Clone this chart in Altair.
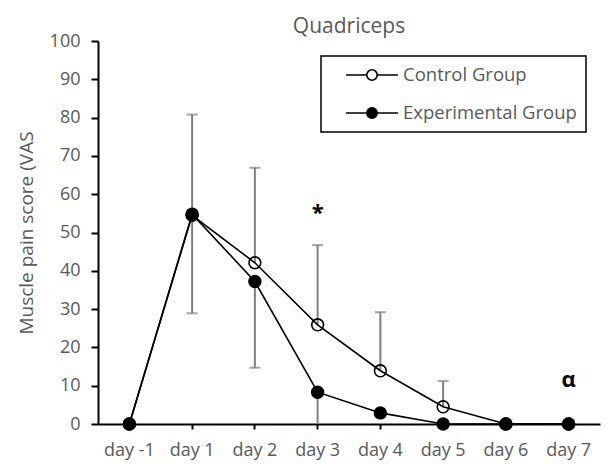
import altair as alt
import pandas as pd

days = ["day -1", "day 1", "day 2", "day 3", "day 4", "day 5", "day 6", "day 7"]
control = [0, 54.5, 42.1, 25.9, 13.9, 4.5, 0, 0]
experimental = [0, 54.8, 37.2, 8.3, 2.9, 0, 0, 0]

# error bars: control upward, experimental downward
ctrl_err_days = ["day 1", "day 2", "day 3", "day 4", "day 5"]
ctrl_err_upper = [80.8, 66.9, 46.7, 29.2, 11.2]
exp_err_days = ["day 1", "day 2", "day 3"]
exp_err_lower = [28.9, 14.7, 0]

ann_days = ["day 3", "day 7"]
ann_vals = [55, 11.5]
ann_text = ["*", "α"]

groups = ["Control Group", "Experimental Group"]

rows = []
for d, c, e in zip(days, control, experimental):
    rows.append({"day": d, "group": groups[0], "value": c})
    rows.append({"day": d, "group": groups[1], "value": e})
df = pd.DataFrame(rows)

cv = dict(zip(days, control))
ev = dict(zip(days, experimental))
err_rows = []
for d, u in zip(ctrl_err_days, ctrl_err_upper):
    err_rows.append({"day": d, "base": cv[d], "end": u, "cap": True})
for d, l in zip(exp_err_days, exp_err_lower):
    err_rows.append({"day": d, "base": ev[d], "end": l, "cap": l > 0})
err = pd.DataFrame(err_rows)

ann = pd.DataFrame({"day": ann_days, "value": ann_vals, "text": ann_text})

FONT = "Open Sans"
GRAY = "#595959"

x = alt.X("day:N", sort=days, scale=alt.Scale(domain=days, paddingInner=0, paddingOuter=0),
          axis=alt.Axis(title=None, labelAngle=0, labelFont=FONT, labelFontSize=18,
                        labelColor=GRAY, domainColor="black", domainWidth=2,
                        tickColor="black", tickWidth=2, tickSize=5, labelPadding=12))
y_scale = alt.Scale(domain=[0, 100], nice=False)
y_axis = alt.Axis(title="Muscle pain score (VAS", values=list(range(0, 101, 10)), grid=False,
                  labelOverlap=False,
                  labelFont=FONT, labelFontSize=18, labelColor=GRAY, domainColor="black",
                  domainWidth=2, tickColor="black", tickWidth=2, tickSize=7, labelPadding=11,
                  titleFont=FONT, titleFontSize=19, titleFontWeight="normal", titleColor=GRAY,
                  titlePadding=13)

rules = alt.Chart(err).mark_rule(color="#7f7f7f", strokeWidth=2).encode(
    x=x, y=alt.Y("base:Q", scale=y_scale, axis=y_axis), y2="end:Q")
caps = alt.Chart(err).transform_filter("datum.cap").mark_tick(
    color="#7f7f7f", thickness=2, size=11).encode(
    x=x, y=alt.Y("end:Q", scale=y_scale, axis=y_axis))

lines = alt.Chart(df).mark_line(color="black", strokeWidth=1.6).encode(
    x=x, y=alt.Y("value:Q", scale=y_scale, axis=y_axis), detail="group:N")

legend_path = ("M-1,0H-0.2M0.2,0H1M-0.2,0A0.2,0.2 0 1,0 0.2,0A0.2,0.2 0 1,0 -0.2,0Z")
points = alt.Chart(df).mark_point(shape="circle", size=140, stroke="black",
                                  strokeWidth=1.6, opacity=1, fillOpacity=1).encode(
    x=x, y=alt.Y("value:Q", scale=y_scale, axis=y_axis),
    fill=alt.Fill("group:N", scale=alt.Scale(domain=groups, range=["transparent", "black"]),
                  legend=alt.Legend(title=None, orient="none", legendX=223, legendY=15,
                                    symbolType=legend_path, symbolSize=2704,
                                    symbolStrokeColor="black", symbolStrokeWidth=1.6,
                                    symbolOffset=15, labelOffset=4, clipHeight=20,
                                    rowPadding=18, padding=9, labelFont=FONT,
                                    labelFontSize=18.5, labelColor=GRAY, labelLimit=300,
                                    strokeColor="black")))

text = alt.Chart(ann).mark_text(font=FONT, fontSize=22, fontWeight="bold", color="black",
                                baseline="middle").encode(
    x=x, y=alt.Y("value:Q", scale=y_scale, axis=y_axis), text="text:N")

chart = alt.layer(rules, caps, lines, points, text).properties(
    width=502, height=383,
    title="Quadriceps",
    autosize=alt.AutoSizeParams(type="none"),
    padding={"left": 98, "top": 41, "right": 13, "bottom": 42},
).configure_view(stroke=None).configure_legend(strokeWidth=1.5).configure_title(
    font=FONT, fontSize=21, fontWeight="normal", color=GRAY, offset=-5)

chart.save("out.html", embed_options={"renderer": "svg", "actions": False})
